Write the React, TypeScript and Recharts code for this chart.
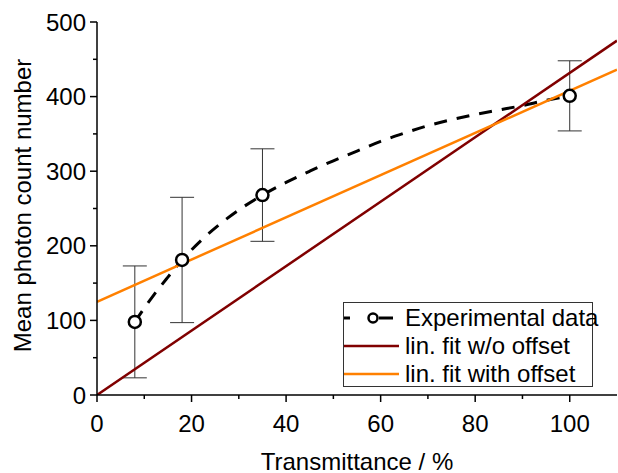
import React from 'react';
import { ComposedChart, Line, Scatter, ErrorBar, XAxis, YAxis, Legend, Label } from 'recharts';

// measured points (transmittance %, mean count, error)
const expX = [8, 18, 35, 100];
const expY = [98, 181, 268, 401];
const expErr = [75, 84, 62, 47];

// dashed fit curve
const curveX = [8, 12, 15, 18, 22, 26, 30, 35, 40, 45, 50, 55, 60, 65, 70, 75, 80, 85, 90, 95, 100];
const curveY = [98, 134, 158, 181, 207, 229, 248, 268, 285, 300, 314, 327, 340, 351, 361, 369, 376, 382, 388, 395, 401];

// linear fits, end points
const fitX = [0, 110];
const fitNoOffsetY = [0, 475];
const fitOffsetY = [125, 436];

const xTicks = [0, 10, 20, 30, 40, 50, 60, 70, 80, 90, 100];
const yTicks = [0, 50, 100, 150, 200, 250, 300, 350, 400, 450, 500];

const expData = expX.map((x, i) => ({ x, y: expY[i], err: expErr[i] }));
const curveData = curveX.map((x, i) => ({ x, y: curveY[i] }));
const noOffsetData = fitX.map((x, i) => ({ x, y: fitNoOffsetY[i] }));
const offsetData = fitX.map((x, i) => ({ x, y: fitOffsetY[i] }));

const FONT = '"Liberation Sans", Arial, sans-serif';
const RED = '#800000';
const ORANGE = '#ff8000';

const BottomTick = (props: any) => {
  const { x, y, payload } = props;
  const major = payload.value % 20 === 0;
  return (
    <g>
      <line x1={x} x2={x} y1={y} y2={y + (major ? 7 : 4)} stroke="#000" strokeWidth={1.5} />
      {major && (
        <text x={x} y={y + 28} textAnchor="middle" dominantBaseline="central" fontSize={24} fill="#000" fontFamily={FONT}>
          {payload.value}
        </text>
      )}
    </g>
  );
};

const TopTick = (props: any) => {
  const { x, y, payload } = props;
  const major = payload.value % 20 === 0;
  return <line x1={x} x2={x} y1={y} y2={y + (major ? 7 : 4)} stroke="#000" strokeWidth={1.5} />;
};

const LeftTick = (props: any) => {
  const { x, y, payload } = props;
  const major = payload.value % 100 === 0;
  return (
    <g>
      <line x1={x} x2={x - (major ? 7 : 4)} y1={y} y2={y} stroke="#000" strokeWidth={1.5} />
      {major && (
        <text x={x - 11} y={y} textAnchor="end" dominantBaseline="central" fontSize={24} fill="#000" fontFamily={FONT}>
          {payload.value}
        </text>
      )}
    </g>
  );
};

const RightTick = (props: any) => {
  const { x, y, payload } = props;
  const major = payload.value % 100 === 0;
  return <line x1={x} x2={x - (major ? 7 : 4)} y1={y} y2={y} stroke="#000" strokeWidth={1.5} />;
};

const Dot = (props: any) => (
  <circle cx={props.cx} cy={props.cy} r={6} fill="#fff" stroke="#000" strokeWidth={2.5} />
);

const LegendBox = () => {
  const rows = [
    { name: 'Experimental data', kind: 'exp' },
    { name: 'lin. fit w/o offset', color: RED },
    { name: 'lin. fit with offset', color: ORANGE },
  ];
  return (
    <div style={{ width: 250, height: 85, border: '1px solid #333', background: '#fff', fontFamily: FONT, fontSize: 24, lineHeight: '28px', paddingTop: 1, boxSizing: 'border-box' }}>
      {rows.map((r) => (
        <div key={r.name} style={{ display: 'flex', alignItems: 'center', height: 28 }}>
          <svg width={58} height={28} style={{ flex: 'none' }}>
            {r.kind === 'exp' ? (
              <g>
                <line x1={0} x2={6} y1={14} y2={14} stroke="#000" strokeWidth={3} />
                <line x1={35} x2={49} y1={14} y2={14} stroke="#000" strokeWidth={3} />
                <circle cx={29} cy={14} r={4.5} fill="#fff" stroke="#000" strokeWidth={2.5} />
              </g>
            ) : (
              <line x1={0} x2={55} y1={14} y2={14} stroke={r.color} strokeWidth={2.5} />
            )}
          </svg>
          <span style={{ marginLeft: 3, whiteSpace: 'nowrap' }}>{r.name}</span>
        </div>
      ))}
    </div>
  );
};

export default function App() {
  return (
    <div style={{ position: 'absolute', left: 0, top: 0 }}>
      <ComposedChart width={618} height={473} margin={{ top: 22, right: 1, bottom: 0, left: 0 }}>
        <XAxis
          dataKey="x"
          type="number"
          domain={[0, 110]}
          ticks={xTicks}
          interval={0}
          height={78}
          tickSize={0}
          tickMargin={0}
          tickLine={false}
          axisLine={{ stroke: '#000', strokeWidth: 1.5 }}
          tick={<BottomTick />}
          allowDataOverflow
        >
          <Label
            content={(p: any) => (
              <text x={p.viewBox.x + p.viewBox.width / 2} y={p.viewBox.y + 66} textAnchor="middle" dominantBaseline="central" fontSize={24} fontFamily={FONT} fill="#000">
                Transmittance / %
              </text>
            )}
          />
        </XAxis>
        <XAxis
          xAxisId="top"
          orientation="top"
          type="number"
          domain={[0, 110]}
          ticks={xTicks}
          interval={0}
          height={0}
          tickSize={0}
          tickMargin={0}
          tickLine={false}
          axisLine={{ stroke: '#000', strokeWidth: 1.5 }}
          tick={<TopTick />}
          allowDataOverflow
        />
        <YAxis
          type="number"
          domain={[0, 500]}
          ticks={yTicks}
          interval={0}
          width={97}
          tickSize={0}
          tickMargin={0}
          tickLine={false}
          axisLine={{ stroke: '#000', strokeWidth: 1.5 }}
          tick={<LeftTick />}
          allowDataOverflow
        >
          <Label
            content={(p: any) => {
              const cx = 22;
              const cy = p.viewBox.y + p.viewBox.height / 2 - 3;
              return (
                <text x={cx} y={cy} transform={`rotate(-90 ${cx} ${cy})`} textAnchor="middle" dominantBaseline="central" fontSize={24} fontFamily={FONT} fill="#000">
                  Mean photon count number
                </text>
              );
            }}
          />
        </YAxis>
        <YAxis
          yAxisId="right"
          orientation="right"
          type="number"
          domain={[0, 500]}
          ticks={yTicks}
          interval={0}
          width={0}
          tickSize={0}
          tickMargin={0}
          tickLine={false}
          axisLine={{ stroke: '#000', strokeWidth: 1.5 }}
          tick={<RightTick />}
          allowDataOverflow
        />
        <Legend
          layout="vertical"
          align="center"
          verticalAlign="middle"
          content={<LegendBox />}
          wrapperStyle={{ left: 343, top: 302, width: 250, height: 85 }}
        />
        <Line data={curveData} dataKey="y" type="monotone" stroke="#000" strokeWidth={3} strokeDasharray="13 10" dot={false} isAnimationActive={false} legendType="none" />
        <Scatter data={expData} dataKey="y" shape={<Dot />} isAnimationActive={false} legendType="none">
          <ErrorBar dataKey="err" direction="y" width={12} stroke="#333" strokeWidth={1} isAnimationActive={false} />
        </Scatter>
        <Line data={noOffsetData} dataKey="y" type="linear" stroke={RED} strokeWidth={2.5} dot={false} isAnimationActive={false} legendType="none" />
        <Line data={offsetData} dataKey="y" type="linear" stroke={ORANGE} strokeWidth={2.5} dot={false} isAnimationActive={false} legendType="none" />
      </ComposedChart>
    </div>
  );
}
